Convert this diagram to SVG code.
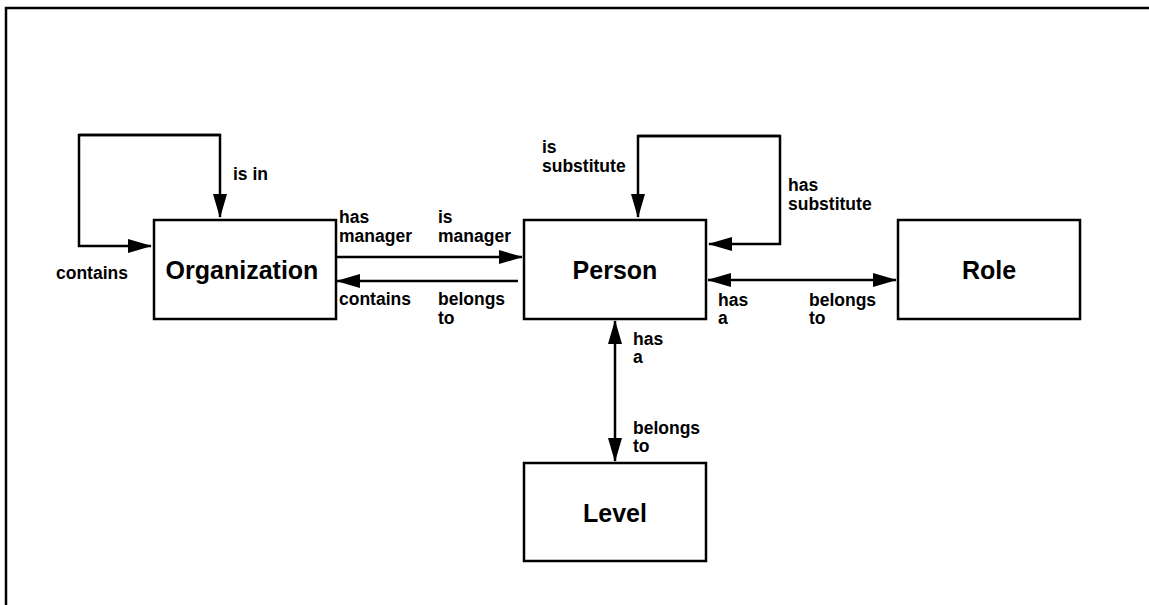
<svg xmlns="http://www.w3.org/2000/svg" width="1149" height="605" viewBox="0 0 1149 605">
<style>
.box{fill:#fff;stroke:#000;stroke-width:2.5}
.nt{font-family:"Liberation Sans",Arial,sans-serif;font-weight:bold;font-size:25px;text-anchor:middle;fill:#000}
.lb{font-family:"Liberation Sans",Arial,sans-serif;font-weight:bold;font-size:17.5px;fill:#000}
.ln{fill:none;stroke:#000;stroke-width:2.5}
</style>
<defs>
<marker id="ah" markerUnits="userSpaceOnUse" markerWidth="24" markerHeight="14" refX="23" refY="7" orient="auto-start-reverse">
<path d="M0,0 L24,7 L0,14 z" fill="#000"/>
</marker>
</defs>
<rect width="1149" height="605" fill="#fff"/>
<path d="M6,605 V8 H1149" fill="none" stroke="#000" stroke-width="2.5"/>
<g id="organization"><rect class="box" x="154" y="220" width="182" height="99"/><text class="nt" x="242" y="279">Organization</text></g>
<g id="person"><rect class="box" x="524" y="220" width="182" height="99"/><text class="nt" x="615" y="279">Person</text></g>
<g id="role"><rect class="box" x="898" y="220" width="182" height="99"/><text class="nt" x="989" y="279">Role</text></g>
<g id="level"><rect class="box" x="524" y="463" width="182" height="98"/><text class="nt" x="615" y="522">Level</text></g>
<g id="connectors">
<path class="ln" d="M220,135 H79 V246 H151" marker-end="url(#ah)"/>
<path class="ln" d="M79,135 H220 V217" marker-end="url(#ah)"/>
<path class="ln" d="M336,257 H522" marker-end="url(#ah)"/>
<path class="ln" d="M518,281 H337" marker-end="url(#ah)"/>
<path class="ln" d="M780,136 H638 V217" marker-end="url(#ah)"/>
<path class="ln" d="M638,136 H780 V244 H709" marker-end="url(#ah)"/>
<path class="ln" d="M708,280 H896" marker-start="url(#ah)" marker-end="url(#ah)"/>
<path class="ln" d="M615,321 V461" marker-start="url(#ah)" marker-end="url(#ah)"/>
</g>
<g id="labels">
<text class="lb" x="233" y="180">is in</text>
<text class="lb" x="56" y="279">contains</text>
<text class="lb" x="339" y="223">has</text>
<text class="lb" x="339" y="242">manager</text>
<text class="lb" x="438" y="223">is</text>
<text class="lb" x="438" y="242">manager</text>
<text class="lb" x="339" y="305">contains</text>
<text class="lb" x="438" y="305">belongs</text>
<text class="lb" x="438" y="324">to</text>
<text class="lb" x="542" y="153">is</text>
<text class="lb" x="542" y="172">substitute</text>
<text class="lb" x="788" y="191">has</text>
<text class="lb" x="788" y="210">substitute</text>
<text class="lb" x="718" y="306">has</text>
<text class="lb" x="718" y="324">a</text>
<text class="lb" x="809" y="306">belongs</text>
<text class="lb" x="809" y="324">to</text>
<text class="lb" x="633" y="345">has</text>
<text class="lb" x="633" y="363">a</text>
<text class="lb" x="633" y="434">belongs</text>
<text class="lb" x="633" y="452">to</text>
</g>
</svg>
